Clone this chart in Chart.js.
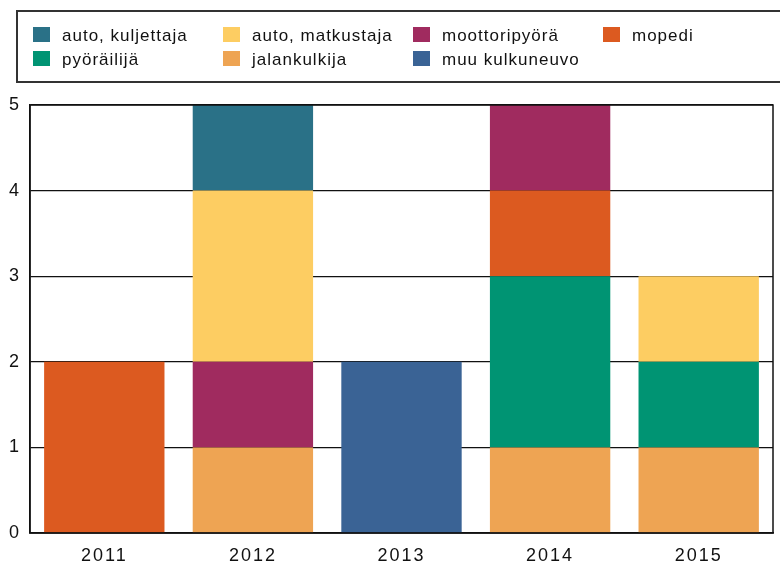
<!DOCTYPE html>
<html>
<head>
<meta charset="utf-8">
<script src="https://cdn.jsdelivr.net/npm/chart.js@4"></script>
<style>
  html, body { margin: 0; padding: 0; background: #fff; }
  #wrap { width: 780px; height: 565px; }
</style>
</head>
<body>
<div id="wrap"><canvas id="myChart" width="780" height="565"></canvas></div>
<script>
const years = ['2011', '2012', '2013', '2014', '2015'];

// stacking order, bottom to top
const muuKulkuneuvo = [0, 0, 2, 0, 0];
const jalankulkija = [0, 1, 0, 1, 1];
const pyorailija = [0, 0, 0, 2, 1];
const mopedi = [2, 0, 0, 1, 0];
const moottoripyora = [0, 1, 0, 1, 0];
const autoMatkustaja = [0, 2, 0, 0, 1];
const autoKuljettaja = [0, 1, 0, 0, 0];

const yTicks = [0, 1, 2, 3, 4, 5];

const FONT = '"Liberation Sans", Arial, sans-serif';
const ctx = document.getElementById('myChart');

const mk = (label, data, color) => ({
  label: label,
  data: data,
  backgroundColor: color,
  borderWidth: 0,
  barPercentage: 0.81,
  categoryPercentage: 1.0
});

const data = {
  labels: years,
  datasets: [
    mk('muu kulkuneuvo', muuKulkuneuvo, '#3a6395'),
    mk('jalankulkija', jalankulkija, '#eea453'),
    mk('pyöräilijä', pyorailija, '#009473'),
    mk('mopedi', mopedi, '#dc5a20'),
    mk('moottoripyörä', moottoripyora, '#a02b5f'),
    mk('auto, matkustaja', autoMatkustaja, '#fdcd62'),
    mk('auto, kuljettaja', autoKuljettaja, '#2a7187')
  ]
};

// wider letter spacing, as in the original picture
const spacing = {
  id: 'spacing',
  beforeLayout(chart) { chart.ctx.letterSpacing = '2px'; },
  beforeDraw(chart) { chart.ctx.letterSpacing = '2px'; }
};

// legend drawn as a 4-column grid in a box
const gridLegend = {
  id: 'gridLegend',
  afterDraw(chart) {
    const c = chart.ctx;
    c.save();
    c.strokeStyle = '#333';
    c.lineWidth = 2;
    c.strokeRect(17, 11, 780, 71);
    const items = chart.data.datasets.slice().reverse();
    c.font = '17px ' + FONT;
    c.letterSpacing = '1px';
    c.textBaseline = 'middle';
    items.forEach((ds, i) => {
      const col = i % 4, row = Math.floor(i / 4);
      const x = 33 + col * 190;
      const y = 35 + row * 24;
      c.fillStyle = ds.backgroundColor;
      c.fillRect(x, y - 8, 17, 15);
      c.fillStyle = '#111';
      c.fillText(ds.label, x + 29, y + 1);
    });
    c.restore();
  }
};

// black frame round the plot area
const plotFrame = {
  id: 'plotFrame',
  afterDatasetsDraw(chart) {
    const a = chart.chartArea, c = chart.ctx;
    c.save();
    c.strokeStyle = '#111';
    c.lineWidth = 1.5;
    c.strokeRect(a.left, a.top, a.right - a.left, a.bottom - a.top);
    c.restore();
  }
};

new Chart(ctx, {
  type: 'bar',
  data: data,
  plugins: [spacing, gridLegend, plotFrame],
  options: {
    responsive: false,
    animation: false,
    layout: { padding: { top: 105, right: 7, left: 0, bottom: 0 } },
    plugins: {
      legend: { display: false },
      tooltip: { enabled: false }
    },
    scales: {
      x: {
        stacked: true,
        afterFit: (axis) => { axis.height = 32; },
        grid: { display: false, drawTicks: false },
        border: { color: '#111', width: 1.5 },
        ticks: {
          color: '#111',
          padding: 12,
          font: { family: FONT, size: 18 }
        }
      },
      y: {
        stacked: true,
        min: 0,
        max: 5,
        afterFit: (axis) => { axis.width = 30; },
        afterBuildTicks: (axis) => { axis.ticks = yTicks.map(v => ({ value: v })); },
        grid: { color: '#111', lineWidth: 1.2, drawTicks: false },
        border: { color: '#111', width: 1.5 },
        ticks: {
          color: '#111',
          padding: 9,
          font: { family: FONT, size: 18 }
        }
      }
    }
  }
});
</script>
</body>
</html>
